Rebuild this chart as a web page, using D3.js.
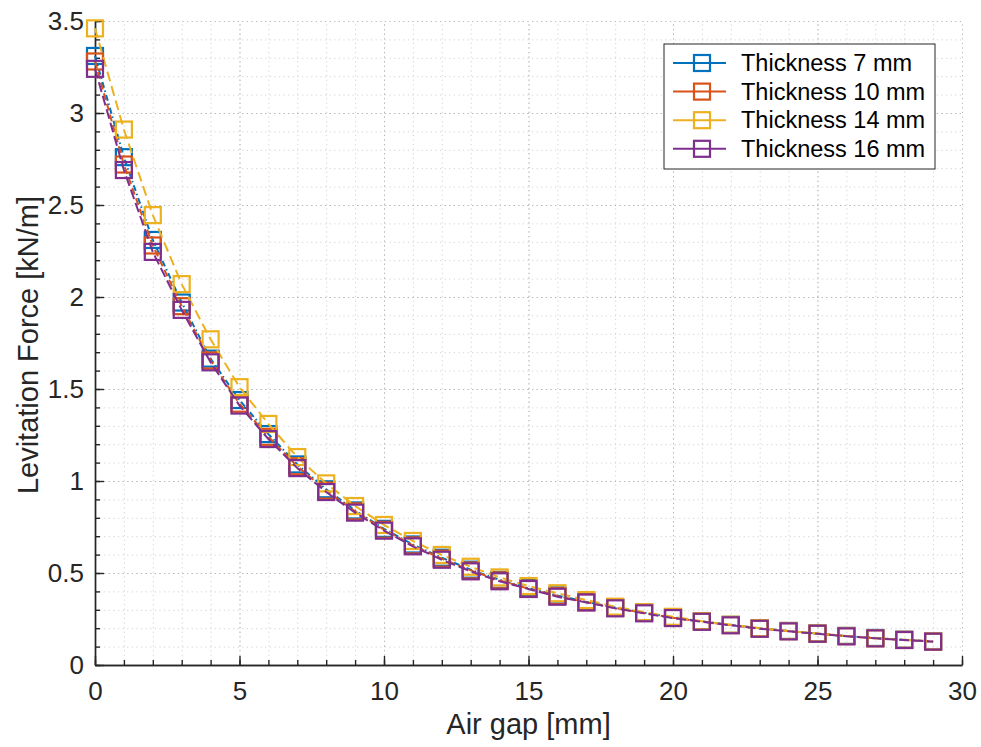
<!DOCTYPE html>
<html>
<head>
<meta charset="utf-8">
<script src="https://d3js.org/d3.v7.min.js"></script>
<style>
 body{margin:0;background:#fff;}
 svg text{font-family:"Liberation Sans",Arial,Helvetica,sans-serif;fill:#262626;}
 .grid line{stroke-dasharray:1.2,3.4;}
 .grid path{display:none;}
 .axis path,.axis line{stroke:#262626;stroke-width:1.4;}
</style>
</head>
<body>
<div id="chartDiv"></div>
<script>
//Values
var airGap   = [0,1,2,3,4,5,6,7,8,9,10,11,12,13,14,15,16,17,18,19,20,21,22,23,24,25,26,27,28,29];
var thick7   = [3.31,2.76,2.31,1.97,1.665,1.44,1.255,1.09,0.955,0.84,0.74,0.655,0.583,0.518,0.463,0.418,0.378,0.343,0.312,0.285,0.259,0.237,0.218,0.200,0.185,0.171,0.158,0.147,0.137,0.128];
var thick10  = [3.28,2.72,2.28,1.95,1.655,1.42,1.24,1.08,0.948,0.835,0.735,0.650,0.578,0.514,0.460,0.415,0.375,0.341,0.310,0.283,0.257,0.236,0.217,0.198,0.184,0.170,0.157,0.146,0.136,0.127];
var thick14  = [3.46,2.91,2.445,2.07,1.77,1.51,1.31,1.13,0.987,0.864,0.761,0.674,0.598,0.534,0.476,0.429,0.390,0.353,0.317,0.287,0.262,0.238,0.219,0.200,0.185,0.171,0.158,0.146,0.137,0.128];
var thick16  = [3.24,2.69,2.245,1.93,1.645,1.41,1.228,1.07,0.94,0.828,0.730,0.645,0.572,0.509,0.455,0.413,0.371,0.340,0.308,0.281,0.255,0.235,0.216,0.197,0.183,0.170,0.156,0.145,0.136,0.127];
var seriesNames = ["Thickness 7 mm","Thickness 10 mm","Thickness 14 mm","Thickness 16 mm"];
var xTicks = [0,5,10,15,20,25,30];
var yTicks = [0,0.5,1,1.5,2,2.5,3,3.5];

var colors = ["#0072BD","#D95319","#EDB120","#7E2F8E"];
var dashes = ["6,3,1.5,3","7,4","10,5","10,4"];

var margin = {top: 21, right: 19, bottom: 82, left: 95};
var W = 981, H = 747;
var width  = W - margin.left - margin.right;
var height = H - margin.top - margin.bottom;

var xScale = d3.scaleLinear().domain([0,30]).range([0,width]);
var yScale = d3.scaleLinear().domain([0,3.5]).range([height,0]);

var svg = d3.select("#chartDiv").append("svg")
  .attr("width", W)
  .attr("height", H)
  .append("g")
  .attr("transform", "translate(" + margin.left + "," + margin.top + ")");

//minor grid first, major on top of it
svg.append("g").attr("class","grid")
  .attr("transform","translate(0," + height + ")")
  .call(d3.axisBottom(xScale).tickValues(d3.range(1,30)).tickSize(-height).tickFormat(""))
  .selectAll("line").style("stroke","#d2d2d2");
svg.append("g").attr("class","grid")
  .call(d3.axisLeft(yScale).tickValues(d3.range(1,35).map(d => d/10)).tickSize(-width).tickFormat(""))
  .selectAll("line").style("stroke","#d2d2d2");
svg.append("g").attr("class","grid")
  .attr("transform","translate(0," + height + ")")
  .call(d3.axisBottom(xScale).tickValues(xTicks.slice(1)).tickSize(-height).tickFormat(""))
  .selectAll("line").style("stroke","#b4b4b4");
svg.append("g").attr("class","grid")
  .call(d3.axisLeft(yScale).tickValues(yTicks.slice(1)).tickSize(-width).tickFormat(""))
  .selectAll("line").style("stroke","#b4b4b4");

//axes, ticks point inward
svg.append("g").attr("class","axis")
  .attr("transform","translate(0," + height + ")")
  .call(d3.axisBottom(xScale).tickValues(d3.range(0,31)).tickSize(-5).tickSizeOuter(0).tickFormat(""));
var xa = svg.append("g").attr("class","axis")
  .attr("transform","translate(0," + height + ")")
  .call(d3.axisBottom(xScale).tickValues(xTicks).tickSize(-9).tickSizeOuter(0).tickPadding(17));
xa.selectAll("text").style("font-size","26px");
svg.append("g").attr("class","axis")
  .call(d3.axisLeft(yScale).tickValues(d3.range(0,36).map(d => d/10)).tickSize(-5).tickSizeOuter(0).tickFormat(""));
var ya = svg.append("g").attr("class","axis")
  .call(d3.axisLeft(yScale).tickValues(yTicks).tickSize(-9).tickSizeOuter(0).tickPadding(11)
        .tickFormat(d => String(d)));
ya.selectAll("text").style("font-size","26px");

//axis titles
svg.append("text")
  .attr("x", width/2)
  .attr("y", height + 69)
  .attr("text-anchor","middle")
  .style("font-size","29px")
  .text("Air gap [mm]");
svg.append("text")
  .attr("transform","translate(" + (-margin.left + 38) + "," + (height/2 + 2) + ")rotate(-90)")
  .attr("text-anchor","middle")
  .style("font-size","29px")
  .text("Levitation Force [kN/m]");

//the curves, blue first so purple ends up on top
var allSeries = [thick7, thick10, thick14, thick16];
var line = d3.line()
  .x((d,i) => xScale(airGap[i]))
  .y(d => yScale(d));
var ms = 16;

allSeries.forEach(function(vals, k){
 svg.append("path")
  .datum(vals)
  .attr("fill","none")
  .attr("stroke", colors[k])
  .attr("stroke-width", 2)
  .attr("stroke-dasharray", dashes[k])
  .attr("d", line);
 svg.selectAll(".mk" + k)
  .data(vals)
  .enter().append("rect")
  .attr("class","mk" + k)
  .attr("x", (d,i) => xScale(airGap[i]) - ms/2)
  .attr("y", d => yScale(d) - ms/2)
  .attr("width", ms)
  .attr("height", ms)
  .attr("fill","none")
  .attr("stroke", colors[k])
  .attr("stroke-width", 2.2);
});

//legend box
var lg = svg.append("g").attr("transform","translate(" + (664 - margin.left) + "," + (44 - margin.top) + ")");
lg.append("rect")
  .attr("width", 271)
  .attr("height", 125)
  .attr("fill","white")
  .attr("stroke","#262626")
  .attr("stroke-width",1);
seriesNames.forEach(function(name, k){
 var yy = 19 + k*28.6;
 lg.append("line")
  .attr("x1", 9).attr("x2", 62)
  .attr("y1", yy).attr("y2", yy)
  .attr("stroke", colors[k]).attr("stroke-width", 2);
 lg.append("rect")
  .attr("x", 38 - 8).attr("y", yy - 8)
  .attr("width", 16).attr("height", 16)
  .attr("fill","none")
  .attr("stroke", colors[k]).attr("stroke-width", 2.2);
 lg.append("text")
  .attr("x", 77)
  .attr("y", yy)
  .attr("dy","0.35em")
  .style("font-size","23.5px")
  .style("fill","#000")
  .text(name);
});
</script>
</body>
</html>
